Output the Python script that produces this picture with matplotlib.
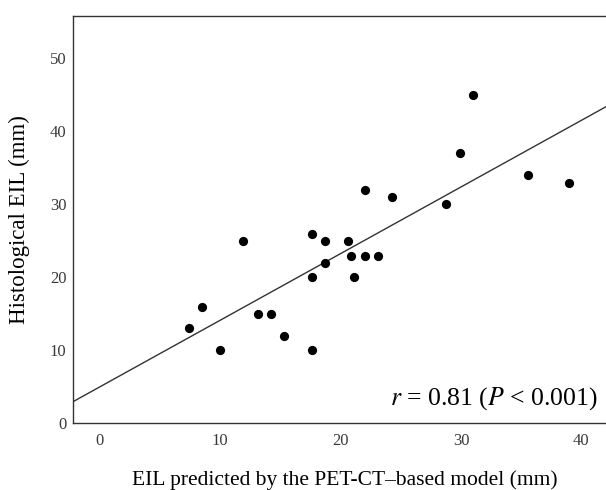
import numpy as np
import matplotlib
matplotlib.use('Agg')
import matplotlib.pyplot as plt

# predicted EIL (x) vs histological EIL (y), mm
predicted = [31.0, 29.9, 35.6, 39.0, 22.0, 24.3, 28.8, 11.9, 17.6, 18.7, 20.6,
             20.9, 22.0, 23.1, 18.7, 17.6, 21.1, 8.5, 7.4, 13.1, 14.2, 15.3,
             10.0, 17.6]
histological = [45, 37, 34, 33, 32, 31, 30, 25, 26, 25, 25,
                23, 23, 23, 22, 20, 20, 16, 13, 15, 15, 12,
                10, 10]

fit_intercept = 5.0
fit_slope = 0.913

x_ticks = [0, 10, 20, 30, 40]
y_ticks = [0, 10, 20, 30, 40, 50]

plt.rcParams['font.family'] = ['Liberation Serif', 'DejaVu Serif']

fig = plt.figure(figsize=(6.06, 4.90), dpi=100)
ax = fig.add_axes([0.121, 0.136, 0.879, 0.831])

xmin, xmax = -2.2, 42.05
ax.set_xlim(xmin, xmax)
ax.set_ylim(0, 55.8)

xx = np.array([xmin, xmax])
ax.plot(xx, fit_intercept + fit_slope * xx, color='#333333', lw=1.0, zorder=2)
ax.scatter(predicted, histological, s=44, color='black', zorder=3, linewidths=0)

ax.set_xticks(x_ticks)
ax.set_yticks(y_ticks)
ax.tick_params(length=0, labelsize=12, colors='#3a3a3a')
ax.tick_params(axis='x', pad=7)
ax.tick_params(axis='y', pad=5)

for side in ['left', 'bottom', 'top']:
    ax.spines[side].set_color('#333333')
    ax.spines[side].set_linewidth(1.0)
ax.spines['right'].set_visible(False)

# x label sits low, centred a little right of the axes centre
fig.text(345 / 606, 5.5 / 490, 'EIL predicted by the PET-CT\u2013based model (mm)',
         fontsize=15.5, ha='center', va='baseline')
ax.set_ylabel('Histological EIL (mm)', fontsize=16.5, labelpad=14)

ax.text(0.985, 0.046, r'$r$ = 0.81 ($P$ < 0.001)', transform=ax.transAxes,
        ha='right', va='baseline', fontsize=18.5, math_fontfamily='stix')

fig.savefig('out.png', dpi=100)
